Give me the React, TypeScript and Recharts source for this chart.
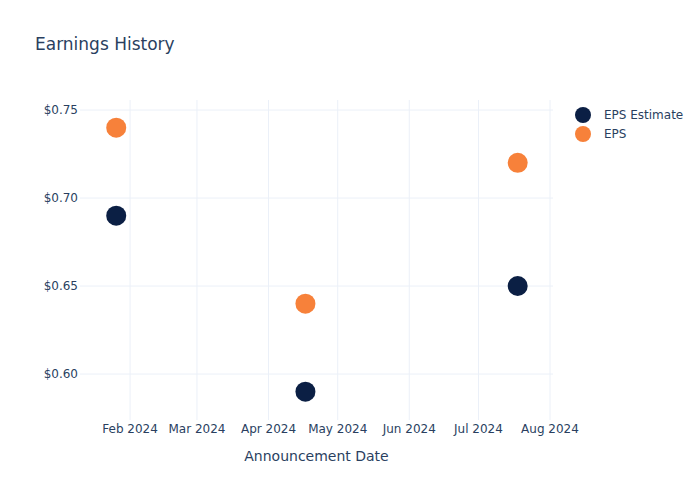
import React from 'react';
import { ScatterChart, Scatter, XAxis, YAxis, ReferenceLine } from 'recharts';

const announceDates = ['2024-01-26', '2024-04-17', '2024-07-18'];
const epsEstimate = [0.69, 0.59, 0.65];
const epsActual = [0.74, 0.64, 0.72];
const monthTicks = ['2024-02-01', '2024-03-01', '2024-04-01', '2024-05-01', '2024-06-01', '2024-07-01', '2024-08-01'];
const yTicks = [0.6, 0.65, 0.7, 0.75];

const MONTHS = ['Jan', 'Feb', 'Mar', 'Apr', 'May', 'Jun', 'Jul', 'Aug', 'Sep', 'Oct', 'Nov', 'Dec'];
const DAY = 86400000;
const ts = (d: string) => Date.parse(d + 'T00:00:00Z');

const estimateData = announceDates.map((d, i) => ({ date: ts(d), value: epsEstimate[i] }));
const actualData = announceDates.map((d, i) => ({ date: ts(d), value: epsActual[i] }));

const FONT = '"DejaVu Sans", Verdana, sans-serif';
const TEXT = '#2a3f5f';
const GRID = '#ebf0f8';
const NAVY = '#0b1f44';
const ORANGE = '#f7813a';

const Dot = (color: string) => (props: any) => (
  <circle cx={props.cx} cy={props.cy} r={10} fill={color} />
);

const series = [
  { name: 'EPS Estimate', color: NAVY },
  { name: 'EPS', color: ORANGE },
];

export default function App() {
  return (
    <div style={{ position: 'absolute', left: 0, top: 0, width: 700, height: 500, background: '#fff' }}>
      <div style={{ position: 'absolute', left: 35, top: 34, fontFamily: FONT, fontSize: 17, color: TEXT }}>
        Earnings History
      </div>
      <div style={{ position: 'absolute', left: 575, top: 105, fontFamily: FONT, fontSize: 12, color: TEXT }}>
        {series.map((s) => (
          <div key={s.name} style={{ display: 'flex', alignItems: 'center', height: 19 }}>
            <svg width={16} height={16} style={{ marginRight: 13 }}>
              <circle cx={8} cy={8} r={8} fill={s.color} />
            </svg>
            <span>{s.name}</span>
          </div>
        ))}
      </div>
      <ScatterChart width={700} height={500} margin={{ top: 100, right: 147, bottom: 0, left: 0 }}>
        <XAxis
          type="number"
          dataKey="date"
          domain={[ts('2024-01-10') + 0.3 * DAY, ts('2024-08-02') + 0.3 * DAY]}
          ticks={monthTicks.map(ts)}
          interval={0}
          tickFormatter={(v: number) => {
            const d = new Date(v);
            return `${MONTHS[d.getUTCMonth()]} ${d.getUTCFullYear()}`;
          }}
          axisLine={false}
          tickLine={false}
          tickSize={0}
          tickMargin={4}
          height={80}
          tick={{ fill: TEXT, fontSize: 12, fontFamily: FONT }}
          label={{ value: 'Announcement Date', position: 'insideTop', offset: 31, fill: TEXT, fontSize: 14, fontFamily: FONT }}
        />
        <YAxis
          type="number"
          dataKey="value"
          domain={[0.5739, 0.7557]}
          ticks={yTicks}
          interval={0}
          tickFormatter={(v: number) => `$${v.toFixed(2)}`}
          axisLine={false}
          tickLine={false}
          tickSize={0}
          tickMargin={2}
          width={80}
          tick={{ fill: TEXT, fontSize: 12, fontFamily: FONT }}
        />
        {monthTicks.map((m) => (
          <ReferenceLine key={m} x={ts(m)} stroke={GRID} strokeWidth={1} />
        ))}
        {yTicks.map((v) => (
          <ReferenceLine key={v} y={v} stroke={GRID} strokeWidth={1} />
        ))}
        <Scatter name="EPS Estimate" data={estimateData} fill={NAVY} shape={Dot(NAVY)} isAnimationActive={false} />
        <Scatter name="EPS" data={actualData} fill={ORANGE} shape={Dot(ORANGE)} isAnimationActive={false} />
      </ScatterChart>
    </div>
  );
}
